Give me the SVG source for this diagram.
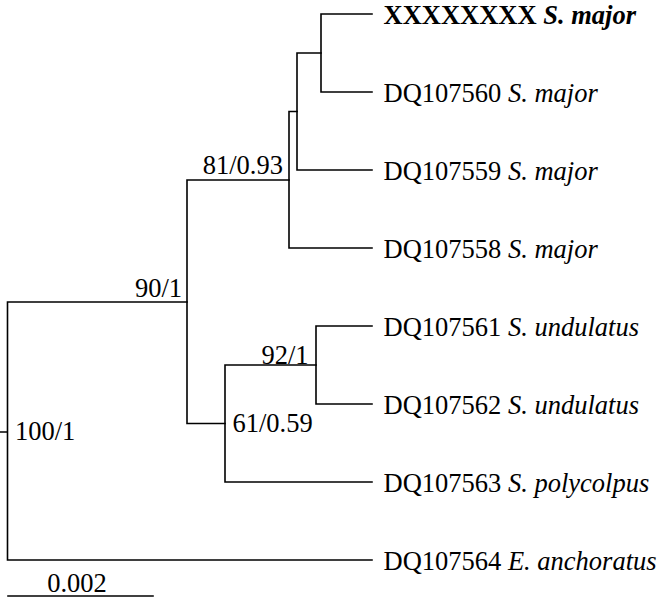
<svg xmlns="http://www.w3.org/2000/svg" width="669" height="600" viewBox="0 0 669 600">
<rect width="669" height="600" fill="#fff"/>
<g id="connectors" fill="none" stroke="#000" stroke-width="1.6" stroke-linecap="square">
<path d="M0.5,432H7.5M7.5,302V560M7.5,302H187M7.5,560H372"/>
<path d="M187,180V423.5M187,180H289M187,423.5H225"/>
<path d="M289,111.5V248M289,111.5H297M289,248H372"/>
<path d="M297,53V170M297,53H321M297,170H372"/>
<path d="M321,14V92M321,14H372M321,92H372"/>
<path d="M225,365V482M225,365H316M225,482H372"/>
<path d="M316,326V404M316,326H372M316,404H372"/>
<path d="M8,596H153"/>
</g>
<g id="n1"><text x="383.5" y="23.5" font-size="26.5" font-family="Times New Roman, Liberation Serif, Tinos, serif" font-weight="bold">XXXXXXXX <tspan font-style="italic">S. major</tspan></text></g>
<g id="n2"><text x="383.5" y="101.5" font-size="26.5" font-family="Times New Roman, Liberation Serif, Tinos, serif">DQ107560 <tspan font-style="italic">S. major</tspan></text></g>
<g id="n3"><text x="383.5" y="179.5" font-size="26.5" font-family="Times New Roman, Liberation Serif, Tinos, serif">DQ107559 <tspan font-style="italic">S. major</tspan></text></g>
<g id="n4"><text x="383.5" y="257.5" font-size="26.5" font-family="Times New Roman, Liberation Serif, Tinos, serif">DQ107558 <tspan font-style="italic">S. major</tspan></text></g>
<g id="n5"><text x="383.5" y="335.5" font-size="26.5" font-family="Times New Roman, Liberation Serif, Tinos, serif">DQ107561 <tspan font-style="italic">S. undulatus</tspan></text></g>
<g id="n6"><text x="383.5" y="413.5" font-size="26.5" font-family="Times New Roman, Liberation Serif, Tinos, serif">DQ107562 <tspan font-style="italic">S. undulatus</tspan></text></g>
<g id="n7"><text x="383.5" y="491.5" font-size="26.5" font-family="Times New Roman, Liberation Serif, Tinos, serif">DQ107563 <tspan font-style="italic">S. polycolpus</tspan></text></g>
<g id="n8"><text x="383.5" y="569.5" font-size="26.5" font-family="Times New Roman, Liberation Serif, Tinos, serif">DQ107564 <tspan font-style="italic">E. anchoratus</tspan></text></g>
<g id="b1"><text x="182" y="297" text-anchor="end" font-size="26.5" font-family="Times New Roman, Liberation Serif, Tinos, serif">90/1</text></g>
<g id="b2"><text x="283" y="173.5" text-anchor="end" font-size="26.5" font-family="Times New Roman, Liberation Serif, Tinos, serif">81/0.93</text></g>
<g id="b3"><text x="308.5" y="364" text-anchor="end" font-size="26.5" font-family="Times New Roman, Liberation Serif, Tinos, serif">92/1</text></g>
<g id="b4"><text x="232.5" y="432" font-size="26.5" font-family="Times New Roman, Liberation Serif, Tinos, serif">61/0.59</text></g>
<g id="b5"><text x="15" y="440" font-size="26.5" font-family="Times New Roman, Liberation Serif, Tinos, serif">100/1</text></g>
<g id="scale"><text x="77" y="592" text-anchor="middle" font-size="26.5" font-family="Times New Roman, Liberation Serif, Tinos, serif">0.002</text></g>
</svg>
